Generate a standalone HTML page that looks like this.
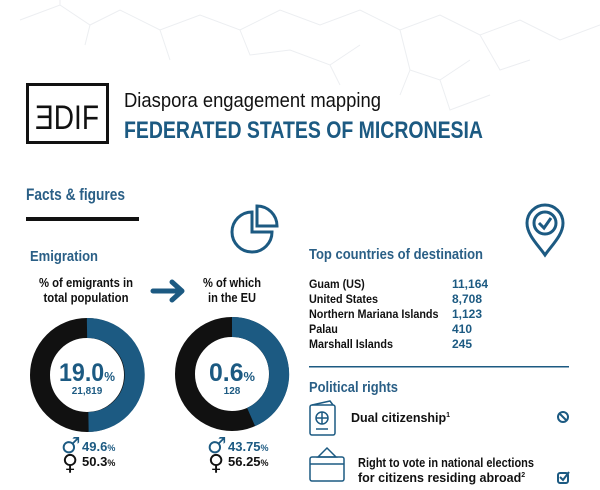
<!DOCTYPE html>
<html><head><meta charset="utf-8"><style>
html,body{margin:0;padding:0;background:#fff;}
svg{display:block;font-family:"Liberation Sans",sans-serif;}
</style></head><body>
<svg width="600" height="490" viewBox="0 0 600 490" xmlns="http://www.w3.org/2000/svg">
<g stroke="#eceef1" stroke-width="1" fill="none">
<path d="M20 20 L60 5 L90 25 L120 10 L160 30 L200 15 L240 30 L280 10 L320 25 L360 10 L400 30 L440 15 L480 35 L520 20 L560 40 L600 25"/>
<path d="M60 5 L60 -5 M90 25 L85 45 M160 30 L170 60 M240 30 L250 55 L290 50 L330 65 L360 45 M400 30 L410 70 L440 80 L470 60 M480 35 L500 70 L530 60"/>
<path d="M330 65 L340 85 M410 70 L400 95 M440 80 L450 110 L490 95"/>
</g>
<!-- logo -->
<rect x="27.5" y="84.5" width="80" height="58" fill="none" stroke="#111" stroke-width="3"/>
<text x="35" y="129" font-size="34" fill="#111" textLength="64" lengthAdjust="spacingAndGlyphs">ƎDIF</text>
<text x="124" y="107" font-size="20" fill="#111" textLength="257" lengthAdjust="spacingAndGlyphs">Diaspora engagement mapping</text>
<text x="124" y="138" font-size="24" font-weight="bold" fill="#1c5a82" textLength="359" lengthAdjust="spacingAndGlyphs">FEDERATED STATES OF MICRONESIA</text>
<text x="26" y="200" font-size="17" font-weight="bold" fill="#2a5f86" textLength="99" lengthAdjust="spacingAndGlyphs">Facts &amp; figures</text>
<rect x="26" y="217" width="113" height="4" fill="#111"/>
<!-- pie icon -->
<g fill="none" stroke="#1c5a82" stroke-width="3">
<path d="M252 212 A20 20 0 1 0 272 232 L252 232 Z"/>
<path d="M257 206 A20 20 0 0 1 277 226 L257 226 Z"/>
</g>
<!-- pin icon -->
<g fill="none" stroke="#1c5a82" stroke-width="3">
<path d="M545 205 A18 18 0 0 1 563 223 C563 235 552 245 545 255 C538 245 527 235 527 223 A18 18 0 0 1 545 205 Z"/>
<circle cx="545" cy="223" r="11"/>
<path d="M539 223 L544 228 L551 218"/>
</g>
<text x="30" y="261" font-size="15" font-weight="bold" fill="#2a5f86" textLength="68" lengthAdjust="spacingAndGlyphs">Emigration</text>
<g font-size="12.5" font-weight="bold" fill="#111" text-anchor="middle">
<text x="86" y="287" textLength="94" lengthAdjust="spacingAndGlyphs">% of emigrants in</text>
<text x="86" y="302" textLength="85" lengthAdjust="spacingAndGlyphs">total population</text>
<text x="232" y="287" textLength="58" lengthAdjust="spacingAndGlyphs">% of which</text>
<text x="232" y="302" textLength="48" lengthAdjust="spacingAndGlyphs">in the EU</text>
</g>
<path d="M153 291 L180 291 M172 282 L182 291 L172 300" fill="none" stroke="#1c5a82" stroke-width="5" stroke-linecap="round" stroke-linejoin="round"/>
<!-- donuts -->
<g fill="none" stroke-width="20">
<circle cx="87" cy="375" r="47" stroke="#111"/>
<path d="M87 328 A47 47 0 0 1 88.5 422" stroke="#1c5a82"/>
<circle cx="232" cy="374" r="47" stroke="#111"/>
<path d="M232 327 A47 47 0 0 1 251.1 417" stroke="#1c5a82"/>
</g>
<g fill="#1c5a82" font-weight="bold">
<text x="59" y="381" font-size="25" textLength="56" lengthAdjust="spacingAndGlyphs">19.0<tspan font-size="13">%</tspan></text>
<text x="87" y="394" font-size="10" text-anchor="middle">21,819</text>
<text x="209" y="381" font-size="25" textLength="46" lengthAdjust="spacingAndGlyphs">0.6<tspan font-size="13">%</tspan></text>
<text x="232" y="394" font-size="10" text-anchor="middle">128</text>
</g>
<g font-weight="bold" font-size="13">
<text x="61" y="453" fill="#1c5a82" font-size="22" font-family="DejaVu Sans,sans-serif">♂</text><text x="82" y="451" fill="#1c5a82">49.6<tspan font-size="9">%</tspan></text>
<text x="62" y="470" fill="#111" font-size="22" font-family="DejaVu Sans,sans-serif">♀</text><text x="82" y="466" fill="#111">50.3<tspan font-size="9">%</tspan></text>
<text x="207" y="453" fill="#1c5a82" font-size="22" font-family="DejaVu Sans,sans-serif">♂</text><text x="228" y="451" fill="#1c5a82">43.75<tspan font-size="9">%</tspan></text>
<text x="208" y="470" fill="#111" font-size="22" font-family="DejaVu Sans,sans-serif">♀</text><text x="228" y="466" fill="#111">56.25<tspan font-size="9">%</tspan></text>
</g>
<text x="309" y="259" font-size="15" font-weight="bold" fill="#2a5f86" textLength="174" lengthAdjust="spacingAndGlyphs">Top countries of destination</text>
<g font-size="12" font-weight="bold">
<g fill="#111" transform="translate(309,0) scale(0.9,1)">
<text x="0" y="288">Guam (US)</text><text x="0" y="303">United States</text><text x="0" y="318">Northern Mariana Islands</text><text x="0" y="333">Palau</text><text x="0" y="348">Marshall Islands</text>
</g>
<g fill="#1c5a82">
<text x="452" y="288">11,164</text><text x="452" y="303">8,708</text><text x="452" y="318">1,123</text><text x="452" y="333">410</text><text x="452" y="348">245</text>
</g>
</g>
<rect x="309" y="366" width="260" height="1.5" fill="#1c5a82"/>
<text x="309" y="392" font-size="15" font-weight="bold" fill="#2a5f86" textLength="89" lengthAdjust="spacingAndGlyphs">Political rights</text>
<!-- passport -->
<g fill="none" stroke="#1c5a82" stroke-width="1.5">
<rect x="310" y="405" width="25" height="30" rx="2"/>
<path d="M312 405 L330 401 L333 405"/>
<circle cx="322" cy="418" r="6"/><path d="M316 418 H328 M322 412 V424"/>
<path d="M316 429 H328"/>
</g>
<text x="351" y="422" font-size="12.5" font-weight="bold" fill="#111">Dual citizenship<tspan font-size="7" dy="-5">1</tspan></text>
<g fill="none" stroke="#1c5a82" stroke-width="2"><circle cx="563" cy="417" r="5"/><path d="M559.5 413.5 L566.5 420.5"/></g>
<!-- ballot -->
<g fill="none" stroke="#1c5a82" stroke-width="1.5">
<rect x="310" y="457" width="34" height="24" rx="2"/>
<path d="M310 464 H344"/>
<path d="M318 457 L327 448 L336 457 Z"/>
</g>
<g font-size="12.5" font-weight="bold" fill="#111">
<text x="358" y="467" textLength="176" lengthAdjust="spacingAndGlyphs">Right to vote in national elections</text>
<text x="358" y="482">for citizens residing abroad<tspan font-size="7" dy="-5">2</tspan></text>
</g>
<g fill="none" stroke="#1c5a82" stroke-width="2"><rect x="558" y="473" width="10" height="10" rx="2"/><path d="M560 477 L563 480 L569 472"/></g>
</svg>
</body></html>
